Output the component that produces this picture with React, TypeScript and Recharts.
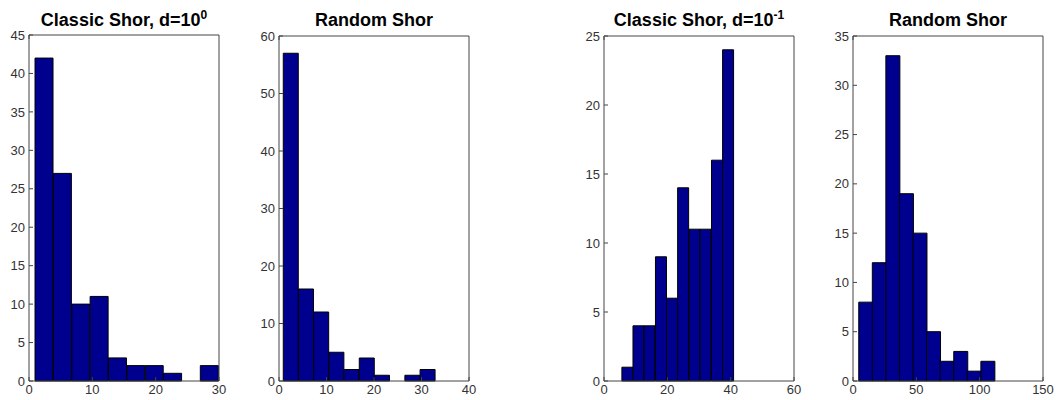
import React from "react";
import { BarChart, Bar, XAxis, YAxis } from "recharts";

// bin centers and counts
const centers1 = [2.4, 5.3, 8.2, 11.1, 14.0, 16.9, 19.8, 22.7, 25.6, 28.5];
const counts1 = [42, 27, 10, 11, 3, 2, 2, 1, 0, 2];
const xTicks1 = [0, 10, 20, 30];
const yTicks1 = [0, 5, 10, 15, 20, 25, 30, 35, 40, 45];

const centers2 = [2.5, 5.7, 8.9, 12.1, 15.3, 18.5, 21.7, 24.9, 28.1, 31.3];
const counts2 = [57, 16, 12, 5, 2, 4, 1, 0, 1, 2];
const xTicks2 = [0, 10, 20, 30, 40];
const yTicks2 = [0, 10, 20, 30, 40, 50, 60];

const centers3 = [7.4, 10.9, 14.4, 18.0, 21.5, 25.0, 28.6, 32.1, 35.7, 39.2];
const counts3 = [1, 4, 4, 9, 6, 14, 11, 11, 16, 24];
const xTicks3 = [0, 20, 40, 60];
const yTicks3 = [0, 5, 10, 15, 20, 25];

const centers4 = [9.9, 20.6, 31.3, 42.0, 52.7, 63.4, 74.1, 84.9, 95.6, 106.3];
const counts4 = [8, 12, 33, 19, 15, 5, 2, 3, 1, 2];
const xTicks4 = [0, 50, 100, 150];
const yTicks4 = [0, 5, 10, 15, 20, 25, 30, 35];

const FONT = "'Liberation Sans', Arial, Helvetica, sans-serif";
const BAR = "#00008F";
const AXIS = "#444";
const PLOT_W = 190;
const Y_W = 30;
const RIGHT = 12;

type PanelProps = {
  title: string;
  sup?: string;
  centers: number[];
  counts: number[];
  xTicks: number[];
  yTicks: number[];
  plotLeft: number;
  plotTop: number;
};

const tickStyle = { fontSize: 13, fill: "#333", fontFamily: FONT };
const noLabel = () => "";

const Panel: React.FC<PanelProps> = ({ title, sup, centers, counts, xTicks, yTicks, plotLeft, plotTop }) => {
  const data = centers.map((c, i) => ({ center: c, count: counts[i] }));
  const xDomain = [xTicks[0], xTicks[xTicks.length - 1]];
  const yDomain = [yTicks[0], yTicks[yTicks.length - 1]];
  return (
    <>
      <div
        style={{
          position: "absolute",
          left: plotLeft - 20,
          top: 10,
          width: PLOT_W + 40,
          textAlign: "center",
          fontFamily: FONT,
          fontWeight: "bold",
          fontSize: 18,
          lineHeight: "20px",
          whiteSpace: "nowrap",
          color: "#000",
        }}
      >
        {title}
        {sup && <sup style={{ fontSize: 12, lineHeight: 0 }}>{sup}</sup>}
      </div>
      <div style={{ position: "absolute", left: plotLeft - Y_W, top: 0 }}>
        <BarChart
          width={Y_W + PLOT_W + 1 + RIGHT}
          height={400}
          data={data}
          margin={{ top: plotTop - 1, right: RIGHT, bottom: 0, left: 0 }}
          barCategoryGap={0}
          barGap={0}
        >
          <XAxis
            dataKey="center"
            type="number"
            domain={xDomain}
            ticks={xTicks}
            allowDataOverflow
            height={19}
            tickSize={-4}
            tickMargin={8}
            stroke={AXIS}
            tick={tickStyle}
            interval={0}
          />
          <XAxis
            xAxisId="top"
            orientation="top"
            type="number"
            domain={xDomain}
            ticks={xTicks}
            allowDataOverflow
            height={1}
            tickSize={-4}
            stroke={AXIS}
            tickFormatter={noLabel}
            interval={0}
          />
          <YAxis
            type="number"
            domain={yDomain}
            ticks={yTicks}
            width={Y_W}
            tickSize={-4}
            tickMargin={8}
            stroke={AXIS}
            tick={tickStyle}
            interval={0}
          />
          <YAxis
            yAxisId="right"
            orientation="right"
            type="number"
            domain={yDomain}
            ticks={yTicks}
            width={1}
            tickSize={-4}
            stroke={AXIS}
            tickFormatter={noLabel}
            interval={0}
          />
          <Bar dataKey="count" fill={BAR} stroke="#000" strokeWidth={1} isAnimationActive={false} />
        </BarChart>
      </div>
    </>
  );
};

const App: React.FC = () => {
  return (
    <div
      style={{
        position: "absolute",
        left: 0,
        top: 0,
        width: 1056,
        height: 400,
        overflow: "hidden",
        background: "#fff",
      }}
    >
      <Panel title="Classic Shor, d=10" sup="0" centers={centers1} counts={counts1} xTicks={xTicks1} yTicks={yTicks1} plotLeft={29} plotTop={35} />
      <Panel title="Random Shor" centers={centers2} counts={counts2} xTicks={xTicks2} yTicks={yTicks2} plotLeft={279} plotTop={36} />
      <Panel title="Classic Shor, d=10" sup="-1" centers={centers3} counts={counts3} xTicks={xTicks3} yTicks={yTicks3} plotLeft={604} plotTop={36} />
      <Panel title="Random Shor" centers={centers4} counts={counts4} xTicks={xTicks4} yTicks={yTicks4} plotLeft={853} plotTop={36} />
    </div>
  );
};

export default App;
